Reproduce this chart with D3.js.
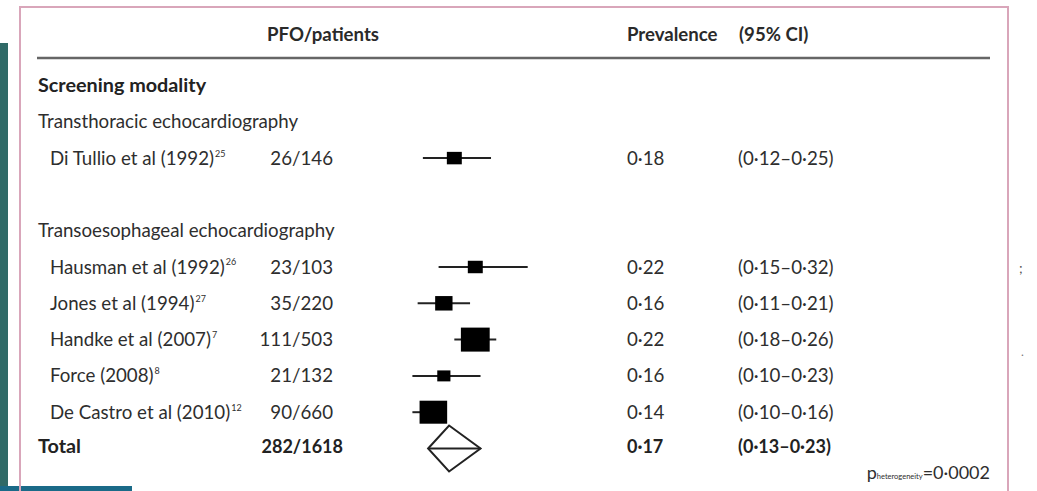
<!DOCTYPE html>
<html>
<head>
<meta charset="utf-8">
<script src="https://cdn.jsdelivr.net/npm/d3@7/dist/d3.min.js"></script>
<style>
  html, body { margin: 0; padding: 0; background: #fff; }
  svg { display: block; font-family: Lato, "Open Sans", sans-serif; }
</style>
</head>
<body>
<svg id="chart" width="1037" height="491"></svg>
<script>
// Studies of PFO prevalence, grouped by screening modality
const studies   = ["Di Tullio et al (1992)", "Hausman et al (1992)", "Jones et al (1994)",
                   "Handke et al (2007)", "Force (2008)", "De Castro et al (2010)"];
const refs      = ["25", "26", "27", "7", "8", "12"];
const modality  = ["Transthoracic echocardiography", "Transoesophageal echocardiography",
                   "Transoesophageal echocardiography", "Transoesophageal echocardiography",
                   "Transoesophageal echocardiography", "Transoesophageal echocardiography"];
const pfo       = [26, 23, 35, 111, 21, 90];
const patients  = [146, 103, 220, 503, 132, 660];
const prevalence = [0.18, 0.22, 0.16, 0.22, 0.16, 0.14];
const ciLow     = [0.12, 0.15, 0.11, 0.18, 0.10, 0.10];
const ciHigh    = [0.25, 0.32, 0.21, 0.26, 0.23, 0.16];
const weights   = [8.9, 8.9, 12.0, 33.0, 6.9, 30.3];   // relative study weight, %

const totalCounts   = [282, 1618];
const totalEstimate = [0.17, 0.13, 0.23];              // pooled, lower, upper
const pHeterogeneity = 0.0002;

const headers = ["PFO/patients", "Prevalence", "(95% CI)"];
const sectionTitle = "Screening modality";

// Lancet-style decimal point
const fmt2 = v => d3.format(".2f")(v).replace(".", "\u00B7");
const fmt4 = v => d3.format(".4f")(v).replace(".", "\u00B7");

// Build row list: section, group headings, studies, spacer, total
const rows = [{ kind: "section", text: sectionTitle }];
let lastGroup = null;
studies.forEach((s, i) => {
  if (modality[i] !== lastGroup) {
    if (lastGroup !== null) rows.push({ kind: "blank" });
    rows.push({ kind: "group", text: modality[i] });
    lastGroup = modality[i];
  }
  rows.push({ kind: "study", i });
});
rows.push({ kind: "total" });

const svg = d3.select("#chart");
const textColor = "#2e2e2e";

// Page decorations around the figure panel
svg.append("rect").attr("x", 0).attr("y", 43).attr("width", 8).attr("height", 444).attr("fill", "#2f6a67");
svg.append("rect").attr("x", 0).attr("y", 486).attr("width", 132).attr("height", 5).attr("fill", "#1a6a88");
svg.append("path")
  .attr("d", "M20,491 V7 H1008 V491")
  .attr("fill", "none").attr("stroke", "#d9a6ba").attr("stroke-width", 2);
svg.append("text").attr("x", 1019).attr("y", 273).attr("font-size", 14).attr("fill", "#555").text(";");
svg.append("text").attr("x", 1021).attr("y", 356).attr("font-size", 12).attr("fill", "#777").text(".");

// Scales
const y = d3.scaleLinear().domain([0, rows.length - 1]).range([85.5, 448.5]);
const x = d3.scaleLinear().domain([0.10, 0.32]).range([412.4, 527.7]);
const side = d3.scaleSqrt().domain([0, 33]).range([0, 24]);

const colCounts = 333, colPrev = 627, colCI = 738, colLabel = 38, colStudy = 50;

// Header
const head = svg.append("g").attr("font-size", 18.6).attr("font-weight", 700).attr("fill", "#2a2a2a");
head.append("text").attr("x", 323).attr("y", 41).attr("text-anchor", "middle").text(headers[0]);
head.append("text").attr("x", colPrev).attr("y", 41).text(headers[1]);
head.append("text").attr("x", colCI + 1).attr("y", 41).text(headers[2]);
svg.append("line").attr("x1", 37).attr("x2", 990).attr("y1", 58).attr("y2", 58)
  .attr("stroke", "#666").attr("stroke-width", 2.5);

// Rows
const body = svg.append("g").attr("font-size", 18.7).attr("fill", textColor);
rows.forEach((r, k) => {
  const yy = y(k);
  if (r.kind === "section") {
    body.append("text").attr("x", colLabel).attr("y", yy).attr("dy", "0.35em")
      .attr("font-size", 19.8).attr("font-weight", 700).attr("fill", "#222").text(r.text);
  } else if (r.kind === "group") {
    body.append("text").attr("x", colLabel).attr("y", yy).attr("dy", "0.35em").text(r.text);
  } else if (r.kind === "study") {
    const i = r.i;
    const t = body.append("text").attr("x", colStudy).attr("y", yy).attr("dy", "0.35em");
    t.append("tspan").text(studies[i]);
    t.append("tspan").attr("font-size", 9).attr("dy", "-0.9em").attr("dx", 1).text(refs[i]);
    body.append("text").attr("x", colCounts).attr("y", yy).attr("dy", "0.35em")
      .attr("text-anchor", "end").text(`${pfo[i]}/${patients[i]}`);
    body.append("text").attr("x", colPrev).attr("y", yy).attr("dy", "0.35em").text(fmt2(prevalence[i]));
    body.append("text").attr("x", colCI).attr("y", yy).attr("dy", "0.35em")
      .text(`(${fmt2(ciLow[i])}\u2013${fmt2(ciHigh[i])})`);

    // confidence interval and weighted square
    svg.append("line").attr("x1", x(ciLow[i])).attr("x2", x(ciHigh[i]))
      .attr("y1", yy).attr("y2", yy).attr("stroke", "#222").attr("stroke-width", 2);
    const h = side(weights[i]), w = h * 1.2;
    svg.append("rect").attr("x", x(prevalence[i]) - w / 2).attr("y", yy - h / 2)
      .attr("width", w).attr("height", h).attr("fill", "#000");
  } else if (r.kind === "total") {
    const g = body.append("g").attr("font-weight", 700).attr("fill", "#222");
    g.append("text").attr("x", colLabel).attr("y", yy - 2).attr("dy", "0.35em")
      .attr("font-size", 19.8).text("Total");
    g.append("text").attr("x", colCounts + 10).attr("y", yy - 2).attr("dy", "0.35em")
      .attr("font-size", 18).attr("text-anchor", "end").text(`${totalCounts[0]}/${totalCounts[1]}`);
    g.append("text").attr("x", colPrev).attr("y", yy - 2).attr("dy", "0.35em")
      .attr("font-size", 18).text(fmt2(totalEstimate[0]));
    g.append("text").attr("x", colCI).attr("y", yy - 2).attr("dy", "0.35em")
      .attr("font-size", 18).text(`(${fmt2(totalEstimate[1])}\u2013${fmt2(totalEstimate[2])})`);

    // pooled estimate diamond
    const cx = x(totalEstimate[0]), lo = x(totalEstimate[1]), hi = x(totalEstimate[2]);
    const hh = 23;
    svg.append("path")
      .attr("d", `M${lo},${yy} L${cx},${yy - hh} L${hi},${yy} L${cx},${yy + hh} Z`)
      .attr("fill", "#fff").attr("stroke", "#222").attr("stroke-width", 2);
    svg.append("line").attr("x1", lo).attr("x2", hi).attr("y1", yy).attr("y2", yy)
      .attr("stroke", "#222").attr("stroke-width", 2);
  }
});

// Heterogeneity p value
const p = svg.append("text").attr("x", 990).attr("y", 479).attr("text-anchor", "end")
  .attr("font-size", 18).attr("fill", textColor);
p.append("tspan").text("p");
p.append("tspan").attr("font-size", 7.5).text("heterogeneity");
p.append("tspan").text("=" + fmt4(pHeterogeneity));
</script>
</body>
</html>
